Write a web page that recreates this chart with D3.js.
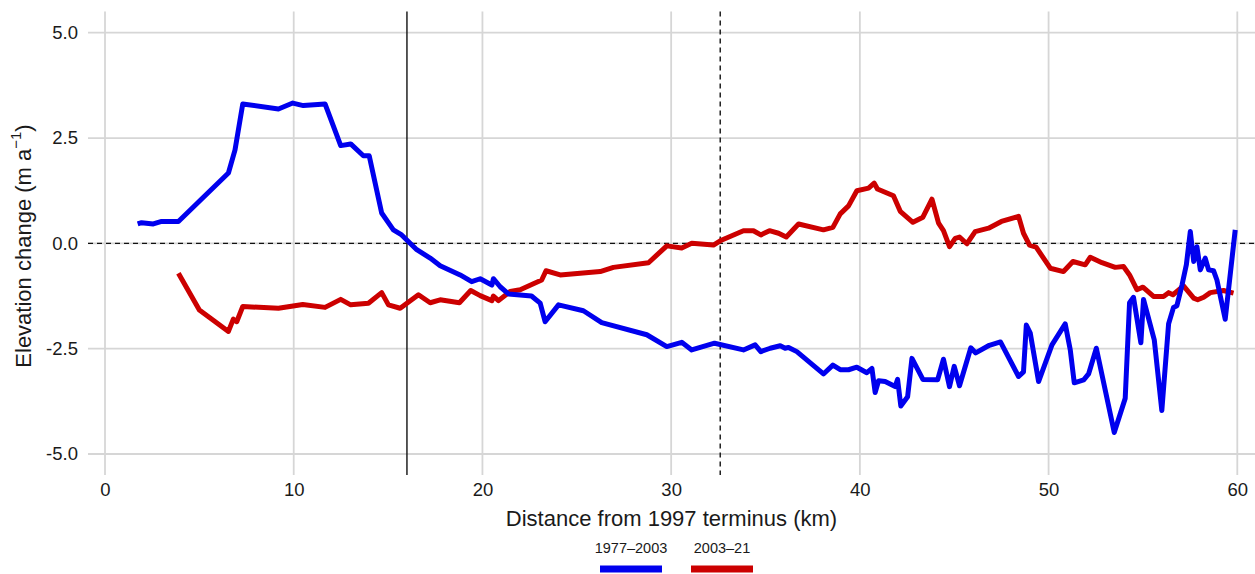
<!DOCTYPE html>
<html>
<head>
<meta charset="utf-8">
<script src="https://cdn.jsdelivr.net/npm/d3@7/dist/d3.min.js"></script>
<style>
  html, body { margin: 0; padding: 0; background: #ffffff; }
  svg { display: block; font-family: "Liberation Sans", Arial, sans-serif; }
</style>
</head>
<body>
<svg id="chart" width="1255" height="574"></svg>
<script>
// ---- Data ----
const seriesNames = ["1977\u20132003", "2003\u201321"];
const seriesColors = ["#0000ee", "#cc0000"];

const blueKm = [1.73,1.94,2.56,3.0,3.89,6.54,6.89,7.3,9.19,9.95,10.51,11.66,12.49,13.02,13.69,14.0,14.66,15.28,15.72,16.52,17.23,17.76,18.82,19.43,19.88,20.5,20.58,20.94,21.38,22.6,23.06,23.32,24.03,25.35,26.32,28.71,29.77,30.56,31.09,32.3,33.83,34.45,34.75,35.25,35.78,36.04,36.22,36.66,38.07,38.57,38.96,39.4,39.84,40.37,40.64,40.81,40.99,41.34,41.87,42.0,42.17,42.53,42.76,43.34,44.12,44.43,44.75,45.0,45.28,45.88,46.14,46.86,47.45,48.41,48.67,48.82,49.03,49.47,50.18,50.88,51.15,51.36,51.86,52.12,52.53,53.48,54.06,54.29,54.5,54.89,55.03,55.6,56.0,56.36,56.62,56.8,57.07,57.3,57.51,57.69,57.86,58.04,58.3,58.48,58.74,58.92,59.36,59.89];
const blueVal = [0.46,0.49,0.46,0.52,0.52,1.67,2.22,3.31,3.19,3.33,3.27,3.31,2.32,2.36,2.08,2.08,0.72,0.32,0.2,-0.15,-0.35,-0.53,-0.75,-0.91,-0.84,-0.99,-0.84,-1.03,-1.2,-1.25,-1.42,-1.86,-1.46,-1.6,-1.88,-2.17,-2.45,-2.35,-2.53,-2.37,-2.53,-2.41,-2.57,-2.49,-2.43,-2.49,-2.47,-2.57,-3.1,-2.89,-3.0,-3.0,-2.94,-3.07,-2.97,-3.54,-3.26,-3.28,-3.4,-3.23,-3.86,-3.64,-2.73,-3.23,-3.24,-2.75,-3.4,-2.92,-3.38,-2.48,-2.6,-2.42,-2.34,-3.16,-3.05,-1.94,-2.13,-3.28,-2.41,-1.91,-2.53,-3.31,-3.24,-3.1,-2.49,-4.49,-3.68,-1.41,-1.28,-2.36,-1.33,-2.29,-3.97,-1.91,-1.52,-1.48,-0.99,-0.51,0.28,-0.43,-0.08,-0.63,-0.35,-0.63,-0.65,-0.87,-1.8,0.32];

const redKm = [3.89,5.0,6.54,6.8,6.98,7.3,9.19,10.48,11.66,12.49,13.02,13.96,14.66,15.02,15.64,16.61,17.23,17.76,18.78,19.38,19.88,20.5,20.58,20.85,21.47,22.0,23.14,23.37,24.12,26.24,26.94,28.8,29.77,30.56,31.09,32.24,32.6,33.83,34.36,34.75,35.21,35.69,36.1,36.75,38.07,38.57,38.96,39.4,39.84,40.46,40.76,40.93,41.78,42.14,42.81,43.34,43.82,44.17,44.43,44.75,45.05,45.28,45.67,46.11,46.82,47.5,48.41,48.67,48.99,49.34,50.09,50.79,51.29,51.94,52.21,52.83,53.53,53.97,54.29,54.68,55.0,55.56,56.09,56.36,56.59,57.15,57.69,57.9,58.22,58.57,59.27,59.8];
const redVal = [-0.71,-1.58,-2.09,-1.8,-1.86,-1.5,-1.54,-1.45,-1.52,-1.33,-1.46,-1.42,-1.17,-1.46,-1.54,-1.22,-1.41,-1.34,-1.41,-1.12,-1.24,-1.36,-1.25,-1.36,-1.14,-1.1,-0.87,-0.65,-0.75,-0.67,-0.57,-0.46,-0.06,-0.11,0.0,-0.04,0.06,0.3,0.3,0.2,0.3,0.24,0.15,0.46,0.32,0.38,0.7,0.89,1.25,1.31,1.43,1.29,1.13,0.76,0.5,0.62,1.05,0.48,0.3,-0.08,0.12,0.15,-0.01,0.28,0.36,0.52,0.64,0.24,-0.04,-0.09,-0.59,-0.67,-0.43,-0.51,-0.33,-0.46,-0.57,-0.55,-0.75,-1.1,-1.04,-1.26,-1.26,-1.17,-1.22,-1.01,-1.3,-1.34,-1.28,-1.17,-1.12,-1.18];

const xTicks = [0, 10, 20, 30, 40, 50, 60];
const yTicks = [-5, -2.5, 0, 2.5, 5];
const yTickLabels = ["-5.0", "-2.5", "0.0", "2.5", "5.0"];
const vLineSolid = [16.0];
const vLineDashed = [32.6];
const hLineDashed = [0];

// ---- Layout ----
const svg = d3.select("#chart");
const panel = { left: 88, right: 1255, top: 11.5, bottom: 475 };
const x = d3.scaleLinear().domain([0, 60]).range([105, 1237.3]);
const y = d3.scaleLinear().domain([-5, 5]).range([454, 32.7]);
const textCol = "#1a1a1a";

const grid = svg.append("g");
grid.selectAll("line.vg").data(xTicks).join("line")
  .attr("x1", d => x(d)).attr("x2", d => x(d))
  .attr("y1", panel.top).attr("y2", panel.bottom)
  .attr("stroke", "#d6d6d6").attr("stroke-width", 1.8);
grid.selectAll("line.hg").data(yTicks).join("line")
  .attr("x1", panel.left).attr("x2", panel.right)
  .attr("y1", d => y(d)).attr("y2", d => y(d))
  .attr("stroke", "#d6d6d6").attr("stroke-width", 1.8);

// reference lines
svg.selectAll("line.hz").data(hLineDashed).join("line")
  .attr("x1", panel.left).attr("x2", panel.right)
  .attr("y1", d => y(d)).attr("y2", d => y(d))
  .attr("stroke", "#111").attr("stroke-width", 1.4).attr("stroke-dasharray", "5,4");
svg.selectAll("line.vs").data(vLineSolid).join("line")
  .attr("x1", d => x(d)).attr("x2", d => x(d))
  .attr("y1", panel.top).attr("y2", panel.bottom)
  .attr("stroke", "#111").attr("stroke-width", 1.4);
svg.selectAll("line.vd").data(vLineDashed).join("line")
  .attr("x1", d => x(d)).attr("x2", d => x(d))
  .attr("y1", panel.top).attr("y2", panel.bottom)
  .attr("stroke", "#111").attr("stroke-width", 1.4).attr("stroke-dasharray", "5,4");

// series lines
const line = d3.line().x(d => x(d[0])).y(d => y(d[1]));
const redData = redKm.map((k, i) => [k, redVal[i]]);
const blueData = blueKm.map((k, i) => [k, blueVal[i]]);
[[redData, seriesColors[1]], [blueData, seriesColors[0]]].forEach(([data, col]) => {
  svg.append("path").datum(data)
    .attr("d", line)
    .attr("fill", "none")
    .attr("stroke", col)
    .attr("stroke-width", 5)
    .attr("stroke-linejoin", "round")
    .attr("stroke-linecap", "butt");
});

// axes (labels only, ggplot minimal style)
const xAxis = d3.axisBottom(x).tickValues(xTicks).tickSize(0).tickPadding(0);
const gx = svg.append("g").attr("transform", "translate(0,483)").call(xAxis);
gx.select(".domain").remove();
gx.selectAll("text").attr("font-size", 18.5).attr("fill", textCol)
  .attr("font-family", "Liberation Sans, Arial, sans-serif").attr("dy", "0.71em");

const yAxis = d3.axisLeft(y).tickValues(yTicks)
  .tickFormat((d, i) => yTickLabels[i]).tickSize(0).tickPadding(0);
const gy = svg.append("g").attr("transform", "translate(78,0)").call(yAxis);
gy.select(".domain").remove();
gy.selectAll("text").attr("font-size", 18.5).attr("fill", textCol)
  .attr("font-family", "Liberation Sans, Arial, sans-serif");

// axis titles
svg.append("text")
  .attr("x", (panel.left + panel.right) / 2).attr("y", 526)
  .attr("text-anchor", "middle").attr("font-size", 22).attr("fill", textCol)
  .text("Distance from 1997 terminus (km)");

const yt = svg.append("text")
  .attr("transform", "translate(31,246) rotate(-90)")
  .attr("text-anchor", "middle").attr("font-size", 22).attr("fill", textCol);
yt.append("tspan").text("Elevation change (m a");
yt.append("tspan").attr("font-size", 15).attr("dy", -10).text("\u22121");
yt.append("tspan").attr("dy", 10).text(")");

// legend
const legX = [631, 722];
const leg = svg.append("g");
seriesNames.forEach((name, i) => {
  leg.append("text").attr("x", legX[i]).attr("y", 553)
    .attr("text-anchor", "middle").attr("font-size", 14.5).attr("fill", textCol)
    .text(name);
  leg.append("rect").attr("x", legX[i] - 31).attr("y", 565.5)
    .attr("width", 62).attr("height", 7).attr("fill", seriesColors[i]);
});
</script>
</body>
</html>
